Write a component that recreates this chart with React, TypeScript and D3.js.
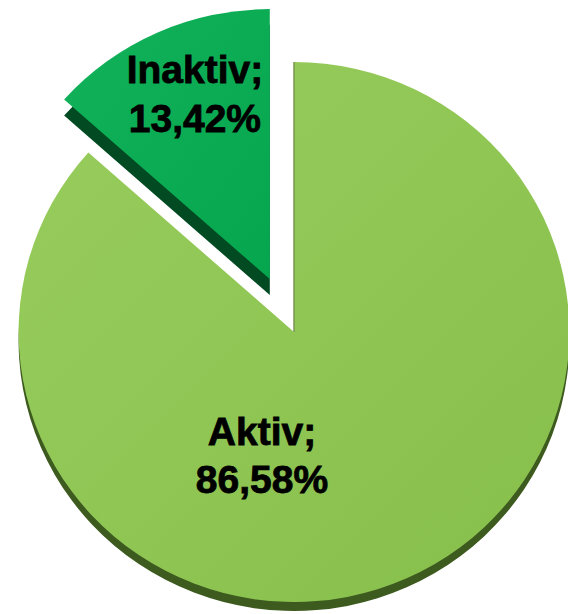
import React from "react";
import * as d3 from "d3";

// slice data (percent of total)
const categories = ["Aktiv", "Inaktiv"];
const shares = [86.58, 13.42];
const exploded = [false, true];

const faceColors = [
  ["#98cd5d", "#87bf4b"],
  ["#12b25a", "#06a64e"],
];
const rimColors = ["#3d5a1f", "#024a22"];

const W = 568;
const H = 614;

export default function App() {
  const cx = 294;
  const cy = 332;
  const R = 270;
  const sx = 1.02; // slight horizontal stretch of the tilted pie
  const explode = 58;
  const rimDepth = [9, 16];

  const pie = d3
    .pie<number>()
    .sort(null)
    .value((d) => d)
    .startAngle(0)
    .endAngle(2 * Math.PI);
  const arcs = pie(shares);

  const arc = d3.arc<d3.PieArcDatum<number>>().innerRadius(0).outerRadius(R);

  const offsets = arcs.map((a, i) => {
    if (!exploded[i]) return [0, 0];
    const mid = (a.startAngle + a.endAngle) / 2;
    return [Math.sin(mid) * explode * sx, -Math.cos(mid) * explode];
  });

  const fmt = (v: number) => v.toFixed(2).replace(".", ",") + "%";

  // label anchor: centroid for the small slice, lower body for the big one
  const labelPos = arcs.map((a, i) => {
    const [ox, oy] = offsets[i];
    if (i === 1) {
      const mid = (a.startAngle + a.endAngle) / 2;
      const rr = R * 0.7;
      return [cx + ox + Math.sin(mid) * rr * sx + 4, cy + oy - Math.cos(mid) * rr - 18];
    }
    return [cx - 32, cy + 118];
  });

  return (
    <svg
      width={W}
      height={H}
      style={{ position: "absolute", left: 0, top: 0, background: "#fff" }}
    >
      <defs>
        {faceColors.map((c, i) => (
          <linearGradient
            key={i}
            id={`face${i}`}
            x1="0"
            y1="0"
            x2="1"
            y2="1"
          >
            <stop offset="0%" stopColor={c[0]} />
            <stop offset="100%" stopColor={c[1]} />
          </linearGradient>
        ))}
      </defs>

      {arcs.map((a, i) => {
        const [ox, oy] = offsets[i];
        return (
          <g
            key={categories[i]}
            transform={`translate(${cx + ox},${cy + oy}) scale(${sx},1)`}
          >
            {/* side / thickness */}
            <path
              d={arc(a) || ""}
              transform={`translate(0,${rimDepth[i]})`}
              fill={rimColors[i]}
            />
            <path d={arc(a) || ""} fill={`url(#face${i})`} />
            {i === 0 && (
              <line
                x1={0}
                y1={0}
                x2={Math.sin(a.startAngle) * R}
                y2={-Math.cos(a.startAngle) * R}
                stroke="#7a9652"
                strokeWidth={1.5}
              />
            )}
          </g>
        );
      })}

      {arcs.map((a, i) => {
        const [lx, ly] = labelPos[i];
        return (
          <text
            key={"lbl" + i}
            x={lx}
            y={ly}
            textAnchor="middle"
            fontFamily="Liberation Sans, Arial, sans-serif"
            fontWeight="bold"
            fontSize={39}
            fill="#000"
            stroke="#000"
            strokeWidth={0.8}
          >
            <tspan x={lx} dy="-0.14em">
              {categories[i] + ";"}
            </tspan>
            <tspan x={lx} dy="1.25em">
              {fmt(shares[i])}
            </tspan>
          </text>
        );
      })}
    </svg>
  );
}
